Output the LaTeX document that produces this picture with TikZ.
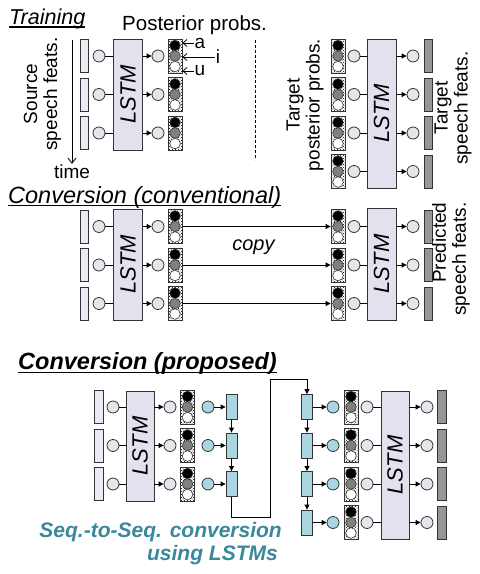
\documentclass[tikz,border=0pt]{standalone}
\usepackage{fontspec}
\setmainfont{Liberation Sans}
\usetikzlibrary{patterns,arrows.meta}

\definecolor{lstmfill}{RGB}{228,224,238}
\definecolor{unitfill}{RGB}{230,228,236}
\definecolor{featfill}{RGB}{234,234,244}
\definecolor{featdark}{RGB}{150,150,150}
\definecolor{seqfill}{RGB}{170,214,226}
\definecolor{seqtext}{RGB}{58,136,156}

\newcommand\fsz[1]{\fontsize{#1}{#1}\selectfont}

\tikzset{
  feat/.style={draw=black!80, line width=0.9pt, fill=featfill, minimum width=8pt, minimum height=33pt, inner sep=0pt},
  darkfeat/.style={feat, fill=featdark},
  unit/.style={circle, draw=black!80, line width=0.8pt, fill=unitfill, minimum size=12pt, inner sep=0pt},
  sequnit/.style={unit, fill=seqfill},
  seqbox/.style={draw=black!80, line width=0.9pt, fill=seqfill, minimum width=11pt, minimum height=25pt, inner sep=0pt},
  lstmbox/.style={draw=black!80, line width=0.9pt, fill=lstmfill, minimum width=29pt, inner sep=0pt},
  lstmtext/.style={rotate=90, font=\fsz{22}\itshape},
  probs/.style={draw=black!80, line width=0.8pt, pattern=crosshatch dots, minimum width=14pt, minimum height=34pt, inner sep=0pt,
    path picture={
      \foreach \c/\s in {black/10.5, black!50/0, white/-10.5}
        \filldraw[fill=\c, draw=black!80, line width=0.6pt] ([yshift=\s pt]path picture bounding box.center) circle (5.3pt);
    }},
  heading/.style={anchor=base west, inner sep=0pt},
  sidetext/.style={rotate=90, align=center, font=\fontsize{19}{20}\selectfont},
  link/.style={line width=0.9pt},
  feed/.style={line width=0.9pt, -{Triangle[length=5pt,width=5pt]}},
  pointer/.style={line width=0.8pt, -{Straight Barb[length=4pt,width=7pt]}}
}

\begin{document}
\begin{tikzpicture}[x=1pt,y=-1pt]
        \useasboundingbox (0,0) rectangle (480,574);

        %Training
        \node[heading, font=\fsz{21.5}\itshape] (train) at (9,24) {Training};
        \draw[line width=1.2pt] ([yshift=-3pt]train.base west) -- ([yshift=-3pt]train.base east);
        \node[heading, font=\fsz{20.5}] (post) at (122,30) {Posterior probs.};
        \node[sidetext] (srcfeat) at (42.5,94) {Source\\speech feats.};
        \coordinate (timetop) at (72,40);
        \node[font=\fsz{19}, inner sep=1pt] (time) at (72,172) {time};
        \draw[line width=0.8pt, -{Straight Barb[length=5pt,width=8pt]}] (timetop) -- (time.north);

        %Training, source side
        \node[lstmbox, minimum height=111pt] (tsl) at (128,94.5) {};
        \node[lstmtext] at (tsl) {LSTM};
        \foreach \k [evaluate=\k as \y using 17.5+38.5*\k] in {1,2,3} {
          \node[feat] (tsf\k) at (84.5,\y) {};
          \node[unit] (tsi\k) at (99,\y) {};
          \node[unit] (tso\k) at (158,\y) {};
          \node[probs] (tsp\k) at (175,\y) {};
          \draw[link] (tsi\k) -- (tsi\k -| tsl.west);
          \draw[feed] (tso\k -| tsl.east) -- (tso\k);
        }

        %Phoneme labels
        \node[font=\fsz{19}, inner sep=1pt] (pa) at (200,43) {a};
        \node[font=\fsz{19}, inner sep=1pt] (pi) at (218,57) {i};
        \node[font=\fsz{19}, inner sep=1pt] (pu) at (200,71) {u};
        \draw[pointer] (pa.west) -- (pa.west -| tsp1.east);
        \draw[pointer] (pi.west) -- (pi.west -| tsp1.east);
        \draw[pointer] (pu.west) -- (pu.west -| tsp1.east);

        %Divider
        \draw[dash pattern=on 3pt off 2pt, line width=0.6pt] (255,40) -- (255,160);

        %Training, target side
        \node[sidetext] (tgtpost) at (305,105) {Target\\posterior probs.};
        \node[lstmbox, minimum height=149pt] (ttl) at (381.5,113.5) {};
        \node[lstmtext] at (ttl) {LSTM};
        \foreach \k [evaluate=\k as \y using 17.5+38.5*\k] in {1,2,3,4} {
          \node[probs] (ttp\k) at (338,\y) {};
          \node[unit] (tti\k) at (354,\y) {};
          \node[unit] (tto\k) at (413,\y) {};
          \node[darkfeat] (ttf\k) at (428,\y) {};
          \draw[link] (tti\k) -- (tti\k -| ttl.west);
          \draw[feed] (tto\k -| ttl.east) -- (tto\k);
        }
        \node[sidetext] (tgtfeat) at (453,108) {Target\\speech feats.};

        %Conversion (conventional)
        \node[heading, font=\fsz{23.5}\itshape] (conv) at (8,203) {Conversion (conventional)};
        \draw[line width=1.2pt] ([yshift=-2.5pt]conv.base west) -- ([yshift=-2.5pt]conv.base east);
        \node[lstmbox, minimum height=111pt] (csl) at (128,264.5) {};
        \node[lstmtext] at (csl) {LSTM};
        \node[lstmbox, minimum height=112pt] (ctl) at (381.5,264) {};
        \node[lstmtext] at (ctl) {LSTM};
        \foreach \k [evaluate=\k as \y using 188+38.5*\k] in {1,2,3} {
          \node[feat] (csf\k) at (84.5,\y) {};
          \node[unit] (csi\k) at (99,\y) {};
          \node[unit] (cso\k) at (158,\y) {};
          \node[probs] (csp\k) at (175,\y) {};
          \draw[link] (csi\k) -- (csi\k -| csl.west);
          \draw[feed] (cso\k -| csl.east) -- (cso\k);
          \node[probs] (ctp\k) at (338,\y) {};
          \node[unit] (cti\k) at (354,\y) {};
          \node[unit] (cto\k) at (413,\y) {};
          \node[darkfeat] (ctf\k) at (428,\y) {};
          \draw[link] (cti\k) -- (cti\k -| ctl.west);
          \draw[feed] (cto\k -| ctl.east) -- (cto\k);
          \draw[feed] (csp\k) -- (ctp\k);
        }
        \node[font=\fsz{20}\itshape, anchor=base] (copy) at (253.5,250) {copy};
        \node[sidetext, align=right] (predfeat) at (451,259) {Predicted\\speech feats.};

        %Conversion (proposed)
        \node[heading, font=\fsz{23.5}\bfseries\itshape] (prop) at (18,369) {Conversion (proposed)};
        \draw[line width=1.4pt] ([yshift=-3.5pt]prop.base west) -- ([yshift=-3.5pt]prop.base east);
        \node[lstmbox, minimum height=110pt, minimum width=28pt] (pbl) at (140,446) {};
        \node[lstmtext] at (pbl) {LSTM};
        \foreach \k [evaluate=\k as \y using 368.5+38.5*\k] in {1,2,3} {
          \node[feat, minimum width=9pt] (pbf\k) at (98.5,\y) {};
          \node[unit] (pbi\k) at (113,\y) {};
          \node[unit] (pbo\k) at (170,\y) {};
          \node[probs] (pbp\k) at (187.5,\y) {};
          \node[sequnit] (pbu\k) at (208,\y) {};
          \node[seqbox] (pbs\k) at (231.5,\y) {};
          \draw[link] (pbi\k) -- (pbi\k -| pbl.west);
          \draw[feed] (pbo\k -| pbl.east) -- (pbo\k);
          \draw[feed] (pbu\k) -- (pbs\k);
        }
        \draw[feed] (pbs1) -- (pbs2);
        \draw[feed] (pbs2) -- (pbs3);

        \node[lstmbox, minimum height=148pt, minimum width=28pt] (prl) at (395,465) {};
        \node[lstmtext] at (prl) {LSTM};
        \foreach \k [evaluate=\k as \y using 368.5+38.5*\k] in {1,2,3,4} {
          \node[seqbox] (prs\k) at (307,\y) {};
          \node[sequnit] (pru\k) at (333,\y) {};
          \node[probs] (prp\k) at (351,\y) {};
          \node[unit] (pri\k) at (367,\y) {};
          \node[unit] (pro\k) at (427,\y) {};
          \node[darkfeat, minimum width=9pt] (prf\k) at (441.5,\y) {};
          \draw[feed] (prs\k) -- (pru\k);
          \draw[link] (pri\k) -- (pri\k -| prl.west);
          \draw[feed] (pro\k -| prl.east) -- (pro\k);
        }
        \draw[feed] (prs1) -- (prs2);
        \draw[feed] (prs2) -- (prs3);
        \draw[feed] (prs3) -- (prs4);

        %Seq-to-seq hand over
        \draw[feed] (pbs3.south) |- (270,517) -- (270,379) -| (prs1.north);
        \node[heading, anchor=base east, font=\fsz{21}\bfseries\itshape, text=seqtext] (seqa) at (282,537) {Seq.-to-Seq. conversion};
        \node[heading, anchor=base east, font=\fsz{21}\bfseries\itshape, text=seqtext] (seqb) at (278,560) {using LSTMs};

      \end{tikzpicture}
\end{document}
